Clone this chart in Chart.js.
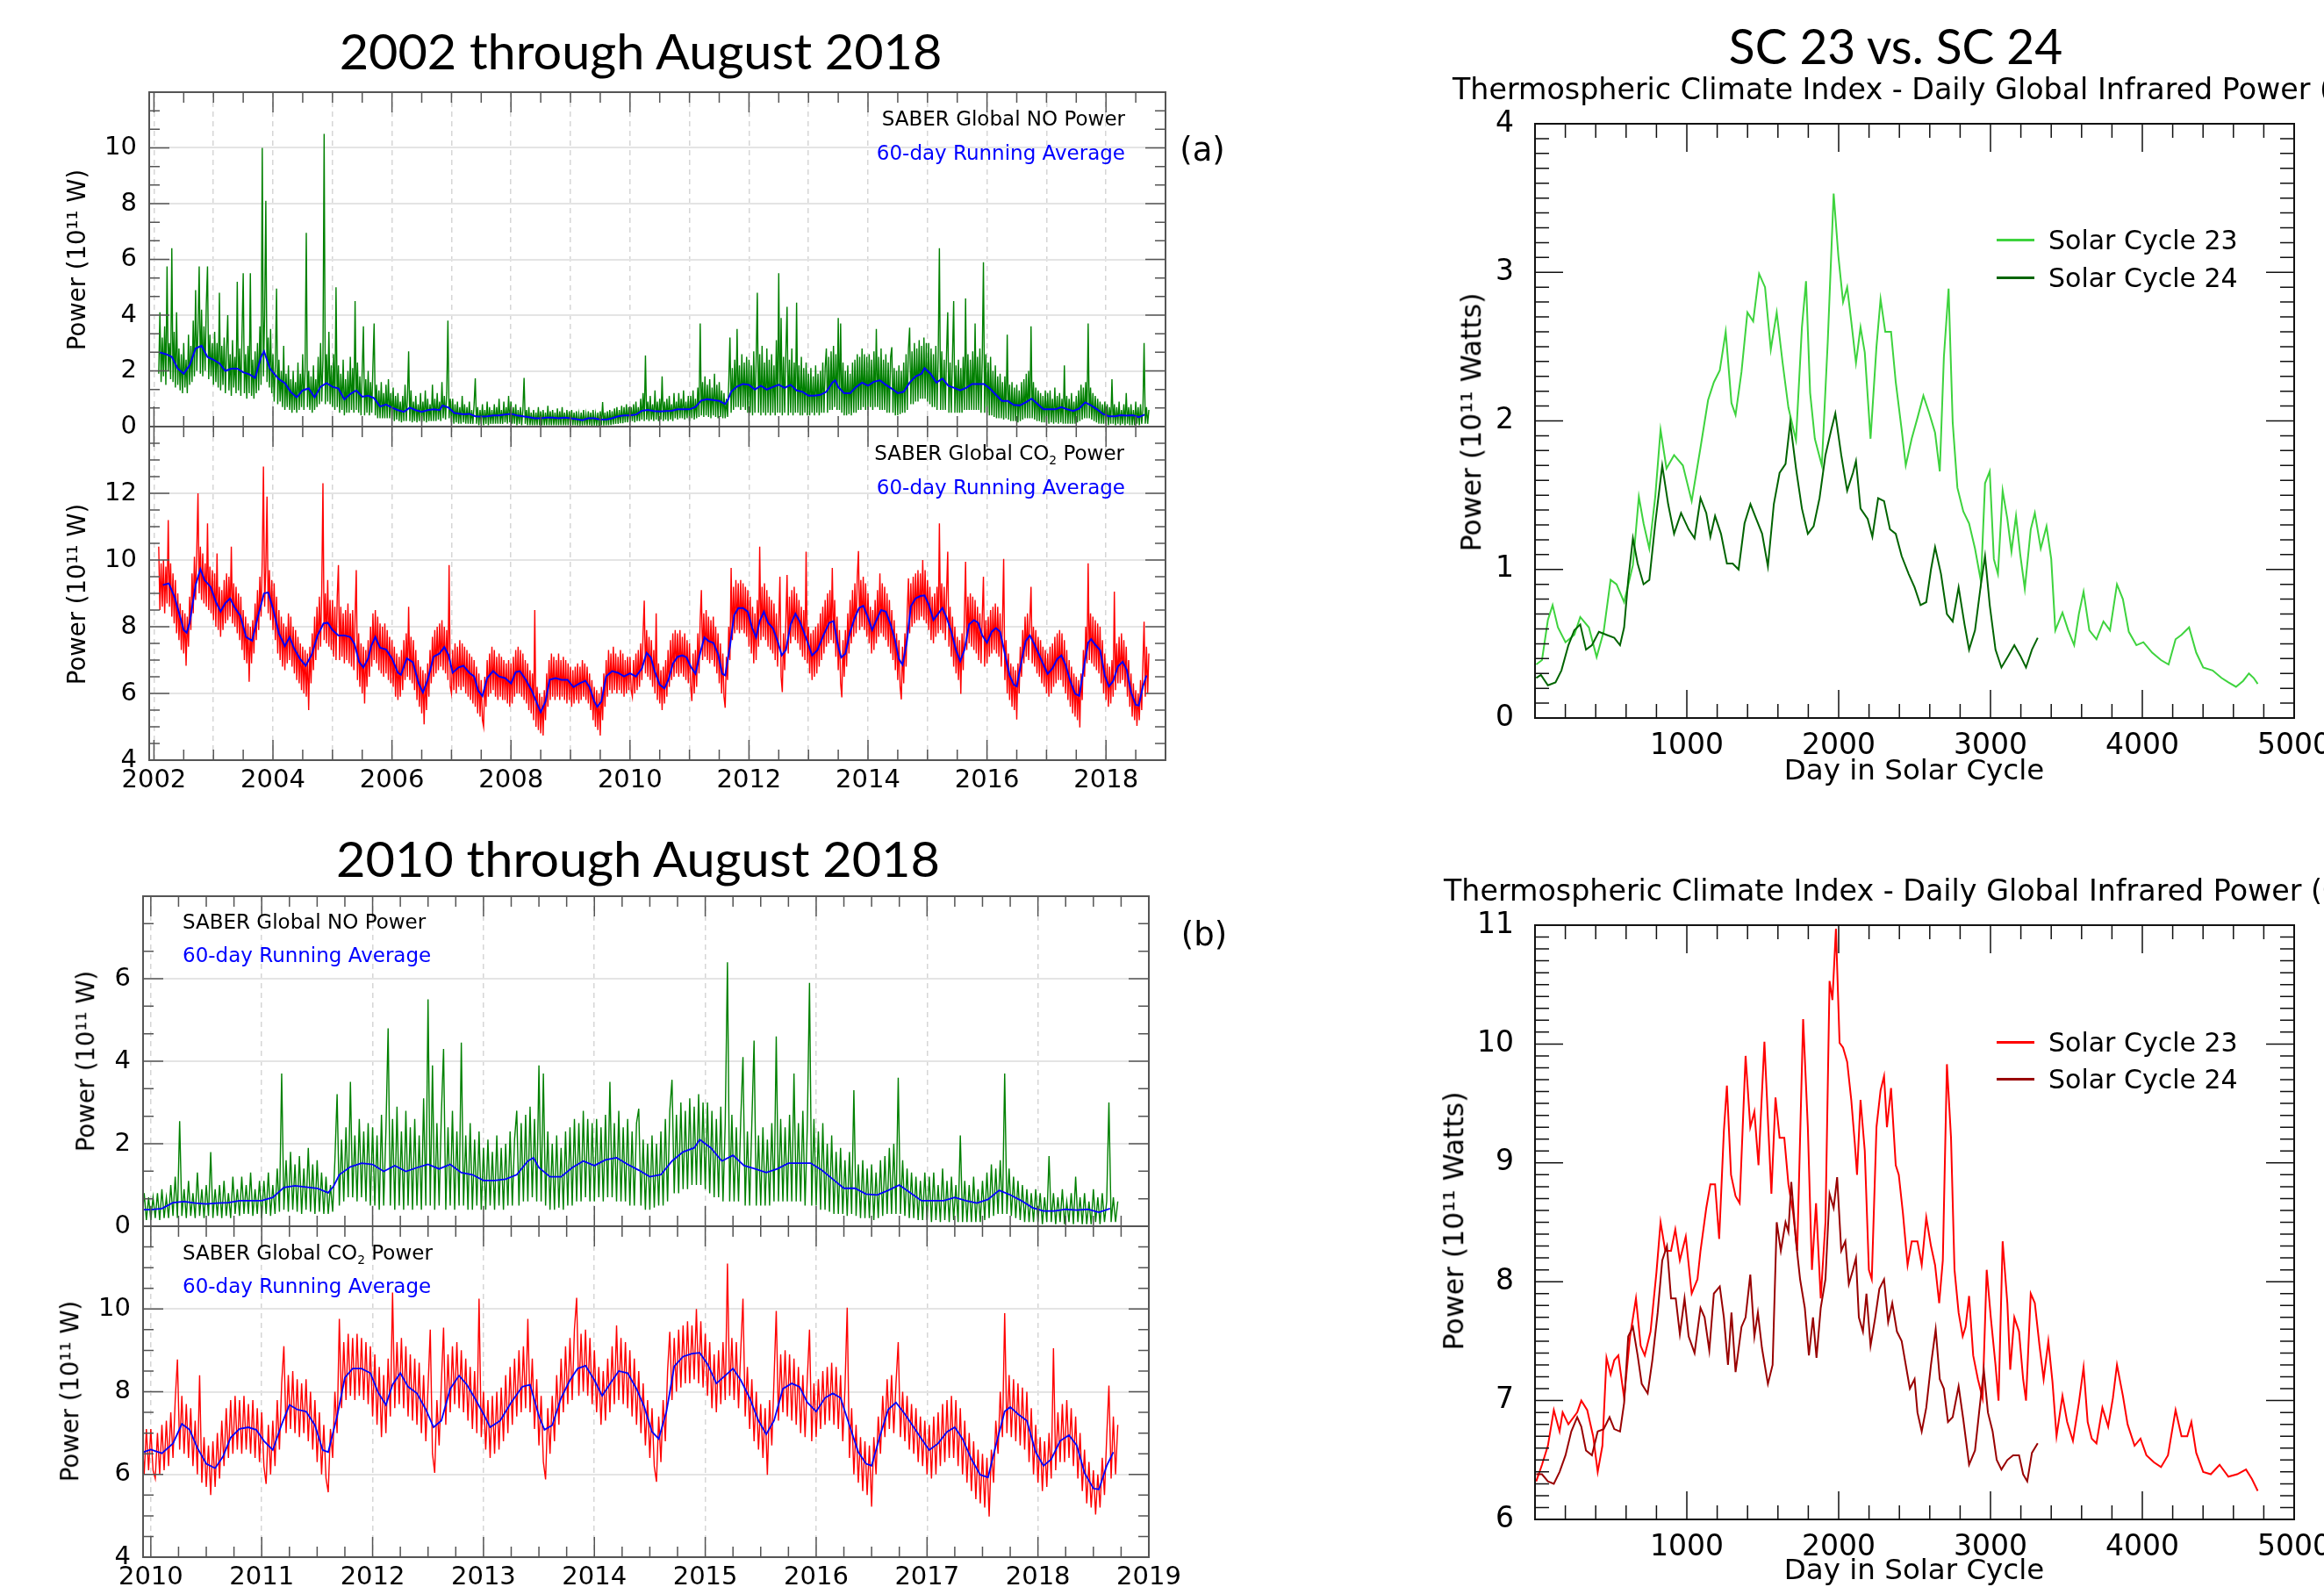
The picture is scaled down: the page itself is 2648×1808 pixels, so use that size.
<!DOCTYPE html>
<html>
<head>
<meta charset="utf-8">
<script src="https://cdn.jsdelivr.net/npm/chart.js@4.4.1/dist/chart.umd.min.js"></script>
<style>
html, body { margin: 0; padding: 0; width: 2648px; height: 1808px; overflow: hidden; background: #fff; }
canvas { position: absolute; }
.t { position: absolute; white-space: nowrap; line-height: 1; color: #000; font-family: "DejaVu Sans", sans-serif; }
.c { transform: translate(-50%, -50%); }
.l { transform: translateY(-50%); }
.r { transform: translate(-100%, -50%); }
.v { transform: translate(-50%, -50%) rotate(-90deg); }
.big { font-family: Lato, "Open Sans", sans-serif; font-size: 56px; }
.sm { font-size: 23px; }
.blue { color: #0000ff; }
.sub { font-size: 60%; position: relative; top: 0.35em; }
.key { position: absolute; height: 3px; width: 43px; }
</style>
</head>
<body>
<canvas id="tlNo" width="1378" height="461" style="left:0;top:65px"></canvas>
<canvas id="tlCo2" width="1378" height="470" style="left:0;top:446px"></canvas>
<canvas id="blNo" width="1359" height="456" style="left:0;top:981px"></canvas>
<canvas id="blCo2" width="1359" height="467" style="left:0;top:1357px"></canvas>
<canvas id="trNo" width="1025" height="777" style="left:1649px;top:101px"></canvas>
<canvas id="brCo2" width="1025" height="777" style="left:1649px;top:1014px"></canvas>

<div class="t c big" data-fit="687" style="left:730px;top:58px">2002 through August 2018</div>
<div class="t c big" data-fit="688" style="left:727px;top:978px">2010 through August 2018</div>
<div class="t c big" data-fit="380" style="left:2160px;top:52px">SC 23 vs. SC 24</div>
<div class="t l" style="left:1655px;top:102px;font-size:33.3px">Thermospheric Climate Index - Daily Global Infrared Power (NO)</div>
<div class="t l" style="left:1645px;top:1015px;font-size:33.3px">Thermospheric Climate Index - Daily Global Infrared Power (CO<span class="sub">2</span>)</div>

<div class="t c" style="left:1370px;top:170px;font-size:37px">(a)</div>
<div class="t c" style="left:1372px;top:1064px;font-size:37px">(b)</div>

<div class="t r sm" style="left:1282px;top:135px">SABER Global NO Power</div>
<div class="t r sm blue" style="left:1282px;top:174px">60-day Running Average</div>
<div class="t r sm" style="left:1281px;top:516px">SABER Global CO<span class="sub">2</span> Power</div>
<div class="t r sm blue" style="left:1282px;top:555px">60-day Running Average</div>
<div class="t l sm" style="left:208px;top:1050px">SABER Global NO Power</div>
<div class="t l sm blue" style="left:208px;top:1088px">60-day Running Average</div>
<div class="t l sm" style="left:208px;top:1427px">SABER Global CO<span class="sub">2</span> Power</div>
<div class="t l sm blue" style="left:208px;top:1465px">60-day Running Average</div>

<div class="t v" style="left:88px;top:296px;font-size:27.5px">Power (10¹¹ W)</div>
<div class="t v" style="left:88px;top:677px;font-size:27.5px">Power (10¹¹ W)</div>
<div class="t v" style="left:98px;top:1209px;font-size:27.5px">Power (10¹¹ W)</div>
<div class="t v" style="left:80px;top:1585px;font-size:27.5px">Power (10¹¹ W)</div>
<div class="t v" style="left:1677px;top:481px;font-size:31.5px">Power (10¹¹ Watts)</div>
<div class="t v" style="left:1657px;top:1391px;font-size:31.5px">Power (10¹¹ Watts)</div>
<div class="t c" style="left:2181px;top:877px;font-size:32.5px">Day in Solar Cycle</div>
<div class="t c" style="left:2181px;top:1788px;font-size:32.5px">Day in Solar Cycle</div>

<div class="key" style="left:2275px;top:272px;background:#3ed33e"></div>
<div class="t l" style="left:2334px;top:274px;font-size:30px">Solar Cycle 23</div>
<div class="key" style="left:2275px;top:315px;background:#006400"></div>
<div class="t l" style="left:2334px;top:317px;font-size:30px">Solar Cycle 24</div>
<div class="key" style="left:2275px;top:1186px;background:#ff0000"></div>
<div class="t l" style="left:2334px;top:1188px;font-size:30px">Solar Cycle 23</div>
<div class="key" style="left:2275px;top:1228px;background:#990000"></div>
<div class="t l" style="left:2334px;top:1230px;font-size:30px">Solar Cycle 24</div>

<script>
var RAW_START = 2002.08;
var RAW_STEP = 0.02;

var noRaw = [
  // 2002
  1.9,4.1,1.6,3.2,1.8,3.6,1.5,5.75,2.0,3.0,1.7,6.4,1.6,3.4,1.4,4.1,1.5,2.8,1.3,2.6,1.2,3.0,1.4,
  2.4,1.2,3.3,1.5,2.9,1.6,3.8,1.8,4.9,2.0,3.5,5.75,1.9,4.2,1.8,3.6,2.0,4.4,5.75,1.7,3.3,1.8,3.0,
  // 2003
  1.5,3.4,1.6,3.0,1.4,4.8,1.3,2.9,1.5,3.2,1.2,2.7,4.0,1.3,2.6,1.1,3.1,1.4,2.5,1.2,5.2,1.3,2.8,1.1,3.3,
  5.5,1.2,2.6,1.0,2.9,1.2,5.5,1.1,2.4,1.0,2.7,1.2,3.0,1.3,3.6,1.5,10.0,1.8,4.0,8.1,1.6,3.2,1.4,3.5,1.2,
  // 2004
  2.6,0.9,2.2,4.95,0.8,2.4,0.9,2.0,0.7,2.9,0.6,1.9,0.7,2.2,0.6,1.7,0.5,2.0,0.6,1.6,0.5,2.3,0.6,1.9,0.7,
  2.6,0.6,2.1,6.95,0.7,2.0,0.6,1.8,0.5,2.2,0.6,1.7,0.7,2.5,0.8,3.0,0.9,2.4,10.5,0.8,2.6,0.9,3.4,0.8,2.2,
  // 2005
  0.7,2.6,0.6,5.0,0.7,2.2,0.5,1.9,0.6,2.4,0.4,1.7,0.5,2.0,0.5,2.5,0.6,2.1,0.5,4.5,0.6,2.3,0.5,1.8,0.4,
  2.0,3.6,0.4,1.7,0.5,2.0,0.4,1.6,0.5,2.2,3.7,0.4,1.5,0.3,1.3,0.3,1.6,0.3,1.2,0.3,1.5,0.3,1.7,0.3,1.2,
  // 2006
  0.25,1.4,0.2,1.1,0.25,1.2,0.2,0.9,0.15,1.1,0.2,1.5,0.2,1.0,2.7,0.2,1.3,0.15,0.9,0.2,1.1,0.15,0.8,0.2,1.2,
  0.15,0.9,0.2,1.3,0.15,1.0,0.2,0.8,0.2,1.5,0.2,1.0,0.2,1.2,0.25,0.9,0.2,1.6,0.3,1.1,0.25,1.2,3.8,0.3,1.0,
  // 2007
  0.15,1.0,0.1,0.8,0.15,0.9,0.1,0.7,0.1,1.1,0.15,0.8,0.1,0.7,0.1,0.9,0.1,0.6,0.1,0.8,1.73,0.1,0.7,0.05,0.6,
  0.1,0.8,0.05,0.6,0.1,0.9,0.05,0.7,0.1,0.6,0.1,0.8,0.1,0.7,0.1,1.0,0.1,0.6,0.1,0.9,0.15,0.7,0.1,1.1,0.15,
  // 2008
  0.9,0.1,0.7,0.1,0.8,0.05,0.6,0.1,0.7,0.05,0.6,1.75,0.1,0.6,0.05,0.7,0.05,0.5,0.05,0.6,0.05,0.5,0.05,0.7,0.05,
  0.55,0.05,0.6,0.05,0.5,0.05,0.75,0.05,0.55,0.05,0.6,0.05,0.5,0.05,0.65,0.05,0.55,0.05,0.7,0.05,0.5,0.05,0.6,0.05,0.55,
  // 2009
  0.05,0.6,0.05,0.5,0.05,0.55,0.04,0.45,0.05,0.5,0.04,0.6,0.05,0.45,0.04,0.55,0.05,0.5,0.03,0.6,0.04,0.45,0.05,0.5,0.03,
  0.55,0.05,0.88,0.04,0.5,0.05,0.55,0.05,0.6,0.06,0.55,0.08,0.65,0.1,0.7,0.1,0.6,0.12,0.75,0.12,0.7,0.15,0.8,0.15,0.7,
  // 2010
  0.15,0.7,0.2,0.8,0.15,0.9,0.2,0.7,0.2,1.0,0.25,1.2,0.2,2.55,0.25,0.9,0.2,1.1,0.25,0.8,0.2,1.3,0.25,0.9,0.2,
  1.0,0.25,1.8,0.2,0.9,0.25,1.0,0.2,1.1,0.25,0.8,0.2,1.2,0.3,0.9,0.25,1.2,0.3,1.0,0.3,1.3,0.25,0.9,0.3,1.1,
  // 2011
  0.2,1.1,0.3,1.3,0.25,1.0,0.3,1.4,0.35,3.7,0.4,1.6,0.35,1.8,0.4,1.5,0.35,1.7,0.3,1.4,0.4,1.9,0.35,1.5,0.3,
  1.6,0.35,1.3,0.3,1.2,0.3,1.0,0.35,1.6,3.2,0.5,2.1,0.6,2.4,0.7,3.5,0.7,2.2,0.6,2.6,0.7,2.3,0.6,2.5,0.5,
  // 2012
  2.4,0.5,2.2,0.4,2.7,0.5,2.3,4.8,0.5,2.6,0.4,2.9,0.5,2.3,0.4,2.8,0.5,2.4,0.4,2.6,0.5,2.2,0.4,3.1,0.5,
  5.5,0.5,3.9,0.4,2.5,0.5,2.7,4.3,0.4,2.4,0.5,2.8,0.4,2.3,0.5,4.45,0.5,2.2,0.4,2.5,0.4,2.1,0.5,2.3,0.4,
  // 2013
  1.9,0.4,2.1,0.5,1.8,0.4,2.2,0.5,1.9,0.4,2.0,0.5,2.3,0.5,2.1,2.8,0.5,2.5,0.6,2.7,0.6,2.9,0.7,2.6,0.6,
  3.9,0.6,3.7,0.5,2.3,0.4,2.0,0.4,2.2,0.45,1.9,0.4,2.3,0.5,2.4,0.5,2.6,0.6,2.5,0.6,2.8,0.7,2.6,0.6,2.5,
  // 2014
  0.6,2.6,0.7,2.4,0.6,2.7,0.7,3.5,0.7,2.5,0.6,2.8,0.6,2.4,0.6,2.6,0.5,2.3,0.5,2.5,2.85,0.5,2.1,0.4,2.0,
  0.4,2.2,0.45,2.0,0.5,2.3,0.5,2.6,0.6,2.8,3.55,0.8,2.7,0.8,3.0,0.9,2.8,0.9,3.1,1.0,2.9,1.0,3.2,1.0,3.0,
  // 2015
  0.9,3.0,0.8,2.8,0.7,2.6,0.7,2.9,0.6,2.5,6.4,0.6,2.7,0.6,2.4,0.6,2.6,4.1,0.5,2.3,0.5,2.5,4.5,0.5,2.2,
  0.5,2.4,0.5,2.1,0.5,2.5,0.6,4.6,0.6,2.6,0.6,2.4,0.6,2.7,0.6,3.7,0.6,2.5,0.6,2.8,0.5,2.4,5.9,0.5,2.6,
  // 2016
  0.5,2.3,0.4,2.5,0.4,2.0,0.35,2.2,0.3,1.8,0.3,1.9,0.3,1.6,0.25,1.8,0.3,3.3,0.25,1.5,0.2,1.6,0.2,1.4,0.2,
  1.5,0.15,1.3,0.2,1.6,0.25,1.7,0.3,1.9,0.3,2.0,0.3,3.6,0.3,1.6,0.25,1.4,0.2,1.3,0.2,1.2,0.15,1.1,0.15,1.3,
  // 2017
  0.15,1.2,0.1,1.3,0.15,1.0,0.1,1.4,0.15,1.1,0.1,1.2,0.15,1.0,0.1,2.2,0.1,1.1,0.1,1.0,0.1,1.2,0.1,0.9,0.1,
  1.1,0.15,1.3,0.2,1.5,0.25,1.4,0.3,1.6,0.3,3.7,0.3,1.4,0.25,1.2,0.2,1.1,0.15,1.0,0.1,0.9,0.1,0.8,0.1,0.9,
  // 2018
  0.1,0.8,0.05,0.7,0.1,1.7,0.1,0.8,0.05,0.7,0.1,0.9,0.05,0.6,0.1,0.8,0.05,1.2,0.1,0.7,0.05,0.8,0.05,0.6,0.05,
  0.9,0.1,0.7,0.05,0.8,0.1,0.6,3.0,0.1,0.7,0.1,0.6
];

var co2Raw = [
  // 2002
  10.4,8.5,9.9,8.6,10.0,8.4,9.8,8.7,11.2,8.6,9.9,8.3,9.6,8.1,9.4,7.8,9.0,7.6,8.7,7.3,8.5,7.2,8.4,
  6.83,8.3,7.4,8.9,7.9,9.6,8.4,10.1,8.8,10.3,12.0,9.0,10.4,8.8,10.2,8.7,9.9,8.6,11.1,8.5,9.8,8.4,9.7,
  // 2003
  8.2,9.6,8.0,10.2,7.9,9.2,7.7,9.1,7.9,9.4,8.1,9.6,8.2,9.5,8.3,10.4,8.1,9.3,8.0,9.2,7.8,9.0,7.6,8.9,7.3,
  8.5,7.0,8.3,6.9,8.1,6.35,8.0,6.9,8.2,7.2,8.7,7.6,9.1,7.9,9.5,8.3,10.0,12.8,8.6,9.8,11.9,8.4,9.7,8.2,9.4,
  // 2004
  7.9,9.3,7.6,8.9,7.2,8.5,7.0,8.3,6.8,8.1,6.7,8.0,6.9,8.4,7.0,8.3,6.8,8.0,6.6,7.9,6.4,7.7,6.3,7.5,6.1,
  7.4,6.0,7.3,5.9,7.2,5.5,7.4,6.3,7.8,6.7,8.3,7.0,8.6,7.3,8.9,7.4,9.1,12.3,7.6,9.0,7.5,9.4,7.4,8.8,7.3,
  // 2005
  8.8,7.1,8.6,7.0,8.9,9.85,7.0,8.6,7.1,8.4,6.9,8.5,7.0,8.7,6.9,8.4,6.8,8.5,6.7,8.3,9.7,6.4,7.8,6.2,7.5,
  6.0,7.4,5.7,7.3,6.2,7.6,6.5,8.0,6.8,8.4,7.0,8.5,6.9,8.3,6.7,8.1,6.6,8.0,6.5,8.1,6.6,7.9,6.4,7.7,6.3,
  // 2006
  7.6,6.2,7.4,5.9,7.2,5.8,7.1,5.9,7.3,6.1,7.6,6.4,7.8,6.5,8.6,6.4,7.7,6.3,7.6,6.1,7.3,5.8,7.0,5.6,6.8,
  5.4,6.7,5.07,6.6,5.5,6.9,5.9,7.3,6.3,7.7,6.5,7.9,6.6,8.0,6.7,8.1,6.8,8.2,6.7,8.0,6.6,7.9,6.4,9.85,6.2,
  // 2007
  6.0,7.3,6.1,7.5,6.0,7.4,6.2,7.6,6.1,7.5,6.2,7.4,6.0,7.3,5.9,7.2,5.8,7.1,5.7,7.0,5.6,6.8,5.4,6.6,5.3,
  6.4,5.2,5.0,6.5,5.6,7.0,5.9,7.2,6.0,7.4,6.1,7.3,5.9,7.1,5.8,7.2,5.9,7.1,5.8,7.0,5.8,6.9,5.7,7.0,5.6,
  // 2008
  6.9,5.7,7.1,5.9,7.3,6.0,7.4,6.0,7.3,5.9,7.2,5.8,7.0,5.7,6.9,5.5,6.7,5.4,6.6,5.2,8.5,5.0,6.2,4.9,6.0,
  4.8,5.9,4.74,6.1,5.2,6.6,5.6,7.0,5.8,7.2,5.9,7.1,5.8,7.0,5.9,7.2,5.8,7.0,5.9,7.1,5.8,7.0,5.7,6.9,5.8,
  // 2009
  6.8,5.6,6.7,5.7,6.8,5.8,6.9,5.7,6.8,5.8,7.0,5.9,6.9,5.8,6.8,5.7,6.6,5.5,6.4,5.2,6.2,5.0,6.1,4.9,6.0,
  4.74,6.2,5.2,6.6,5.6,7.0,5.9,7.3,6.1,7.2,6.0,7.4,6.1,7.2,6.0,7.1,6.1,7.3,6.0,7.2,5.9,7.0,6.0,7.1,6.1,
  // 2010
  7.1,6.1,5.9,7.0,6.0,7.2,6.1,7.3,6.2,7.5,6.4,7.8,8.78,6.6,7.9,6.5,7.7,6.4,7.6,6.2,7.3,6.0,8.4,5.8,6.9,
  5.7,6.7,5.5,6.8,5.7,7.0,5.9,7.3,6.2,7.6,6.4,7.8,6.5,7.9,6.6,7.8,6.5,7.9,6.6,7.7,6.5,7.8,6.4,7.6,6.3,
  // 2011
  7.5,6.2,5.77,7.2,6.0,7.3,6.2,7.8,6.6,8.2,9.1,7.0,8.4,7.1,8.5,7.0,8.3,6.9,8.2,7.0,8.3,6.8,8.0,6.6,7.8,
  6.3,7.5,6.0,7.2,5.9,5.57,7.1,6.4,8.0,7.0,9.76,7.6,9.2,7.8,9.4,7.9,9.3,7.8,9.4,7.9,9.3,7.8,9.2,7.7,9.1,
  // 2012
  7.4,8.9,7.2,8.6,6.9,8.4,7.0,8.8,7.4,10.4,7.6,9.2,7.7,9.3,7.6,9.1,7.4,8.9,7.3,8.8,7.2,8.7,7.0,8.4,6.8,
  8.1,9.5,6.5,6.04,7.8,6.7,8.2,9.55,7.2,8.9,7.5,9.1,7.7,9.2,7.6,9.0,7.5,8.8,7.3,8.6,7.1,8.5,7.0,10.25,6.9,
  // 2013
  8.0,6.6,7.8,6.4,7.9,6.5,8.0,6.6,8.1,6.8,8.4,7.0,8.6,7.2,8.8,7.4,9.0,7.5,9.1,7.6,9.76,7.5,8.8,7.1,8.3,
  6.7,7.9,6.3,5.88,7.6,6.5,7.9,6.8,8.4,7.2,8.8,7.5,9.1,7.7,9.3,7.8,9.5,10.27,7.9,9.4,8.0,9.5,7.9,9.3,7.7,
  // 2014
  9.0,7.5,8.6,7.2,8.5,7.3,8.8,7.5,9.1,7.7,9.6,7.8,9.3,7.7,9.2,7.6,9.0,7.4,8.8,7.2,8.5,7.0,8.2,6.7,7.8,
  6.4,7.6,6.2,5.82,7.4,6.3,7.8,6.8,8.5,9.45,7.8,9.3,8.0,9.5,8.1,9.6,8.2,9.7,8.2,9.6,8.3,10.0,8.2,9.7,8.1,
  // 2015
  9.4,7.9,9.2,7.6,8.9,7.5,9.0,7.7,9.2,7.8,11.1,7.9,9.3,7.8,9.2,7.6,9.0,10.25,7.4,8.6,7.1,8.3,6.8,8.0,6.6,
  7.7,6.4,7.6,5.99,7.8,6.7,8.3,9.95,7.3,8.9,7.5,9.0,7.4,8.9,7.3,8.8,7.2,8.6,7.0,8.4,6.9,8.3,9.5,6.8,8.2,
  // 2016
  6.9,8.3,7.1,8.5,7.2,8.6,7.3,8.7,7.2,8.6,7.1,8.4,6.8,8.1,10.03,6.4,7.6,6.0,7.2,5.8,6.9,5.6,6.8,5.5,6.7,
  5.22,6.9,6.0,7.4,6.5,7.9,6.9,8.3,7.1,8.4,7.0,8.2,9.2,6.9,8.0,6.8,7.9,6.6,7.7,6.5,7.6,6.3,7.4,6.2,7.3,
  // 2017
  6.0,7.2,5.9,7.4,6.0,7.5,6.2,7.7,6.3,7.8,6.4,7.9,6.4,7.8,6.2,7.6,6.0,7.3,5.8,7.0,5.6,6.8,5.4,6.6,5.3,
  6.5,5.2,6.4,4.98,6.6,5.8,7.3,6.5,8.0,6.9,9.9,7.0,8.4,6.9,8.3,6.8,8.2,6.7,8.1,6.6,8.0,6.3,7.6,6.0,7.2,
  // 2018
  5.8,6.9,5.6,6.8,5.7,7.0,5.9,9.05,6.1,7.5,6.3,7.7,6.3,7.8,6.4,7.6,6.2,7.4,5.9,7.0,5.6,6.6,5.3,6.3,5.2,
  6.1,5.03,6.0,5.2,6.4,5.5,6.9,8.15,5.9,7.4,6.0,7.2
];

// 60-day running averages as [year, power]
var noAvg = [
  [2002.1,2.66],[2002.2,2.6],[2002.3,2.5],[2002.4,2.08],[2002.5,1.9],[2002.6,2.2],[2002.7,2.8],[2002.8,2.9],[2002.9,2.5],
  [2003.0,2.4],[2003.1,2.27],[2003.2,2.0],[2003.3,2.08],[2003.4,2.08],[2003.5,1.95],[2003.6,1.88],[2003.7,1.75],[2003.8,2.5],[2003.85,2.7],[2003.95,2.08],
  [2004.1,1.7],[2004.2,1.56],[2004.3,1.24],[2004.4,1.05],[2004.5,1.3],[2004.6,1.37],[2004.7,1.05],[2004.8,1.43],[2004.9,1.56],
  [2005.0,1.43],[2005.1,1.37],[2005.2,0.98],[2005.3,1.17],[2005.4,1.3],[2005.5,1.07],[2005.6,1.11],[2005.7,1.02],[2005.8,0.72],[2005.9,0.79],
  [2006.0,0.68],[2006.1,0.59],[2006.2,0.53],[2006.3,0.68],[2006.4,0.59],[2006.5,0.53],[2006.6,0.59],[2006.7,0.62],[2006.8,0.59],[2006.85,0.76],[2006.95,0.68],
  [2007.05,0.49],[2007.2,0.44],[2007.3,0.46],[2007.4,0.37],[2007.5,0.36],[2007.6,0.37],[2007.7,0.4],[2007.8,0.4],[2007.9,0.43],
  [2008.0,0.46],[2008.1,0.4],[2008.2,0.37],[2008.3,0.34],[2008.4,0.3],[2008.5,0.3],[2008.6,0.32],[2008.7,0.32],[2008.8,0.3],[2008.9,0.32],
  [2009.0,0.3],[2009.1,0.27],[2009.2,0.23],[2009.3,0.3],[2009.4,0.3],[2009.5,0.25],[2009.6,0.25],[2009.7,0.3],[2009.8,0.37],[2009.9,0.4],
  [2010.0,0.4],[2010.1,0.43],[2010.2,0.57],[2010.3,0.6],[2010.4,0.56],[2010.5,0.54],[2010.6,0.56],[2010.7,0.57],[2010.8,0.62],[2010.9,0.62],
  [2011.0,0.62],[2011.1,0.7],[2011.2,0.94],[2011.3,0.98],[2011.4,0.95],[2011.5,0.92],[2011.6,0.81],[2011.65,0.98],[2011.7,1.25],[2011.8,1.44],[2011.9,1.53],
  [2012.0,1.5],[2012.1,1.33],[2012.2,1.47],[2012.3,1.33],[2012.4,1.42],[2012.5,1.5],[2012.6,1.39],[2012.7,1.5],[2012.8,1.3],[2012.9,1.25],
  [2013.0,1.11],[2013.1,1.11],[2013.2,1.14],[2013.3,1.25],[2013.4,1.58],[2013.45,1.66],[2013.5,1.42],[2013.6,1.2],[2013.7,1.2],[2013.8,1.42],[2013.9,1.58],
  [2014.0,1.47],[2014.1,1.61],[2014.2,1.66],[2014.3,1.5],[2014.4,1.36],[2014.5,1.2],[2014.6,1.25],[2014.7,1.58],[2014.8,1.8],[2014.9,1.9],[2014.95,2.1],
  [2015.05,1.9],[2015.15,1.58],[2015.25,1.72],[2015.35,1.47],[2015.45,1.39],[2015.55,1.3],[2015.65,1.39],[2015.75,1.53],[2015.85,1.53],[2015.95,1.53],
  [2016.05,1.36],[2016.15,1.14],[2016.25,0.92],[2016.35,0.92],[2016.45,0.78],[2016.55,0.76],[2016.65,0.87],[2016.75,1.0],[2016.85,0.81],[2016.95,0.62],
  [2017.05,0.62],[2017.15,0.62],[2017.25,0.7],[2017.35,0.62],[2017.45,0.56],[2017.55,0.65],[2017.65,0.87],[2017.75,0.76],[2017.85,0.62],[2017.95,0.45],
  [2018.05,0.37],[2018.15,0.37],[2018.25,0.41],[2018.35,0.39],[2018.45,0.41],[2018.55,0.34],[2018.65,0.43]
];

var co2Avg = [
  [2002.15,9.25],[2002.25,9.3],[2002.35,8.87],[2002.45,8.23],[2002.5,7.9],[2002.55,7.82],[2002.6,8.12],[2002.7,9.25],[2002.78,9.73],[2002.85,9.4],[2002.95,9.2],
  [2003.05,8.71],[2003.12,8.46],[2003.2,8.71],[2003.28,8.85],[2003.35,8.6],[2003.45,8.33],[2003.55,7.69],[2003.65,7.58],[2003.75,8.33],[2003.85,9.0],[2003.92,9.03],
  [2004.0,8.55],[2004.1,7.8],[2004.2,7.42],[2004.28,7.69],[2004.35,7.37],[2004.45,7.05],[2004.55,6.83],[2004.65,7.16],[2004.75,7.74],[2004.85,8.1],[2004.92,8.12],
  [2005.0,7.9],[2005.1,7.74],[2005.2,7.74],[2005.3,7.69],[2005.37,7.48],[2005.45,6.94],[2005.52,6.78],[2005.6,7.05],[2005.65,7.42],[2005.72,7.69],[2005.8,7.37],[2005.9,7.32],
  [2006.0,7.05],[2006.1,6.62],[2006.15,6.56],[2006.25,7.05],[2006.35,6.94],[2006.45,6.3],[2006.52,6.03],[2006.6,6.41],[2006.7,7.1],[2006.8,7.2],[2006.88,7.39],[2006.95,7.16],
  [2007.02,6.62],[2007.12,6.78],[2007.2,6.83],[2007.3,6.62],[2007.38,6.51],[2007.45,6.08],[2007.52,5.92],[2007.6,6.46],[2007.7,6.67],[2007.8,6.51],[2007.9,6.46],
  [2008.0,6.3],[2008.08,6.64],[2008.15,6.67],[2008.25,6.41],[2008.35,6.08],[2008.45,5.65],[2008.5,5.44],[2008.58,5.76],[2008.65,6.41],[2008.75,6.46],[2008.85,6.41],[2008.95,6.41],
  [2009.05,6.19],[2009.15,6.3],[2009.25,6.38],[2009.32,6.19],[2009.4,5.76],[2009.45,5.6],[2009.52,5.76],[2009.6,6.51],[2009.7,6.67],[2009.8,6.62],[2009.9,6.51],
  [2010.0,6.6],[2010.1,6.51],[2010.2,6.75],[2010.28,7.22],[2010.35,7.08],[2010.42,6.64],[2010.5,6.26],[2010.58,6.15],[2010.65,6.43],[2010.72,6.89],[2010.8,7.1],[2010.88,7.14],[2010.95,7.08],
  [2011.02,6.81],[2011.1,6.59],[2011.18,7.21],[2011.25,7.68],[2011.32,7.57],[2011.4,7.52],[2011.48,7.19],[2011.55,6.59],[2011.6,6.54],[2011.68,7.41],[2011.75,8.34],[2011.82,8.56],[2011.9,8.56],[2011.98,8.45],
  [2012.05,7.98],[2012.12,7.68],[2012.18,8.17],[2012.25,8.45],[2012.32,8.12],[2012.4,7.96],[2012.48,7.57],[2012.55,7.14],[2012.62,7.3],[2012.7,8.07],[2012.78,8.39],[2012.85,8.17],[2012.92,7.85],
  [2013.0,7.46],[2013.06,7.14],[2013.15,7.3],[2013.25,7.74],[2013.35,8.12],[2013.42,8.17],[2013.5,7.41],[2013.55,7.08],[2013.62,7.19],[2013.7,7.85],[2013.78,8.28],[2013.85,8.56],[2013.92,8.63],
  [2014.0,8.28],[2014.07,7.9],[2014.15,8.23],[2014.22,8.5],[2014.3,8.45],[2014.38,8.07],[2014.45,7.63],[2014.52,7.03],[2014.58,6.86],[2014.65,7.52],[2014.72,8.61],[2014.8,8.85],[2014.88,8.92],[2014.95,8.94],
  [2015.02,8.67],[2015.1,8.2],[2015.18,8.39],[2015.25,8.56],[2015.32,8.28],[2015.4,7.85],[2015.48,7.3],[2015.55,6.97],[2015.62,7.3],[2015.7,8.07],[2015.78,8.2],[2015.85,8.12],[2015.92,7.74],
  [2016.0,7.52],[2016.08,7.85],[2016.15,7.96],[2016.22,7.85],[2016.3,7.19],[2016.38,6.54],[2016.45,6.26],[2016.5,6.21],[2016.58,6.97],[2016.65,7.57],[2016.72,7.74],[2016.8,7.46],[2016.88,7.14],[2016.95,6.86],
  [2017.02,6.59],[2017.1,6.75],[2017.18,7.03],[2017.25,7.14],[2017.32,6.86],[2017.4,6.37],[2017.48,5.99],[2017.55,5.93],[2017.62,6.7],[2017.7,7.52],[2017.75,7.63],[2017.82,7.46],[2017.9,7.3],[2017.98,6.54],
  [2018.05,6.21],[2018.12,6.37],[2018.2,6.81],[2018.28,6.95],[2018.35,6.7],[2018.42,6.04],[2018.5,5.66],[2018.55,5.64],[2018.62,6.21],[2018.68,6.54]
];

// Thermospheric Climate Index, day in solar cycle vs power
var sc23NoDays = [
  8,46,85,116,151,201,259,298,355,406, 452,498,537,587,645,684,715,753,792,827,
  866,916,974,1032,1090,1140,1178,1217,1256,1294, 1321,1360,1399,1437,1476,1515,1553,1592,1631,1669,
  1719,1758,1785,1812,1843,1889,1928,1967,1998,2029, 2056,2083,2114,2144,2172,2210,2249,2276,2307,2345,
  2376,2415,2442,2481,2519,2558,2597,2635,2666,2693, 2724,2751,2782,2821,2859,2898,2937,2964,2995,3022,
  3049,3080,3111,3138,3168,3196,3226,3265,3292,3331, 3369,3400,3427,3474,3512,3551,3582,3613,3651,3698,
  3744,3787,3833,3872,3911,3961,4007,4065,4123,4173, 4219,4258,4308,4355,4401,4463,4521,4567,4617,4664,
  4702,4733,4760
];
var sc23No = [
  0.36,0.39,0.66,0.76,0.61,0.51,0.56,0.68,0.61,0.41, 0.58,0.93,0.9,0.78,1.03,1.49,1.31,1.14,1.49,1.94,
  1.68,1.77,1.7,1.46,1.82,2.14,2.26,2.34,2.6,2.12, 2.04,2.33,2.73,2.67,2.99,2.9,2.48,2.73,2.39,2.09,
  1.87,2.63,2.94,2.19,1.88,1.7,2.53,3.53,3.11,2.8, 2.9,2.67,2.39,2.63,2.46,1.88,2.5,2.82,2.6,2.6,
  2.26,1.94,1.7,1.88,2.02,2.17,2.05,1.92,1.66,2.43, 2.89,1.99,1.55,1.39,1.31,1.14,0.92,1.58,1.66,1.07,
  0.97,1.53,1.34,1.12,1.36,1.1,0.87,1.27,1.38,1.14, 1.29,1.07,0.59,0.71,0.59,0.49,0.7,0.85,0.59,0.53,
  0.65,0.59,0.9,0.8,0.58,0.49,0.51,0.44,0.39,0.36, 0.53,0.56,0.61,0.44,0.34,0.32,0.27,0.24,0.21,0.25,
  0.3,0.27,0.23
];
var sc24NoDays = [
  8,39,85,135,174,220,259,298,336,375, 421,471,522,560,587,614,645,676,715,753,
  792,838,877,916,962,1012,1051,1090,1128,1155, 1186,1225,1264,1302,1341,1380,1419,1457,1496,1534,
  1573,1611,1650,1681,1719,1758,1797,1835,1874,1913, 1951,1978,2017,2056,2094,2114,2144,2191,2222,2260,
  2299,2338,2376,2415,2461,2500,2539,2577,2608,2635, 2674,2713,2751,2790,2829,2859,2898,2937,2964,2995,
  3033,3072,3118,3157,3196,3234,3273,3311
];
var sc24No = [
  0.27,0.29,0.22,0.24,0.32,0.49,0.59,0.63,0.46,0.49, 0.58,0.56,0.54,0.49,0.61,0.93,1.21,1.04,0.9,0.93,
  1.31,1.7,1.44,1.24,1.38,1.27,1.21,1.48,1.38,1.22, 1.36,1.24,1.04,1.04,1.0,1.31,1.44,1.34,1.24,1.02,
  1.44,1.65,1.71,1.99,1.68,1.41,1.24,1.29,1.48,1.77, 1.94,2.05,1.77,1.53,1.65,1.73,1.41,1.34,1.22,1.48,
  1.46,1.27,1.24,1.09,0.97,0.88,0.76,0.78,1.0,1.15, 0.97,0.7,0.65,0.88,0.63,0.46,0.59,0.9,1.09,0.76,
  0.46,0.34,0.42,0.49,0.42,0.34,0.46,0.54
];
var sc23Co2Days = [
  8,46,85,124,162,182,220,278,305,344, 383,413,444,471,498,522,549,587,626,665,
  696,723,761,800,827,858,896,924,954,993, 1032,1070,1090,1128,1155,1186,1213,1244,1264,1291,
  1321,1348,1368,1387,1418,1445,1472,1511,1534,1557, 1584,1611,1642,1669,1700,1727,1766,1797,1824,1851,
  1882,1913,1940,1959,1982,2006,2029,2056,2083,2106, 2121,2144,2172,2199,2218,2249,2276,2299,2318,2345,
  2376,2396,2423,2454,2481,2519,2547,2577,2608,2635, 2662,2686,2713,2740,2763,2790,2817,2836,2859,2886,
  2917,2948,2975,3002,3033,3053,3080,3111,3130,3157, 3188,3215,3234,3265,3292,3323,3350,3381,3408,3435,
  3474,3505,3543,3582,3613,3640,3667,3698,3737,3775, 3806,3833,3872,3903,3949,3988,4027,4077,4123,4169,
  4219,4258,4296,4323,4355,4401,4451,4509,4567,4625, 4683,4722,4760
];
var sc23Co2 = [
  6.32,6.46,6.62,6.92,6.74,6.9,6.8,6.9,7.0,6.92, 6.7,6.4,6.62,7.36,7.22,7.34,7.38,7.02,7.54,7.86,
  7.46,7.38,7.58,8.08,8.5,8.26,8.26,8.44,8.18,8.38, 7.9,8.02,8.26,8.62,8.82,8.82,8.36,9.27,9.65,8.9,
  8.72,8.66,9.3,9.9,9.3,9.43,8.98,10.02,9.37,8.74, 9.55,9.21,9.21,8.82,8.58,8.26,10.21,9.3,8.1,8.66,
  7.86,8.5,10.53,10.37,10.97,10.01,9.97,9.85,9.53,9.17, 8.9,9.53,9.1,8.1,8.02,9.3,9.61,9.73,9.3,9.63,
  8.98,8.9,8.58,8.14,8.34,8.34,8.14,8.54,8.3,8.14, 7.82,8.18,9.83,9.21,8.1,7.74,7.54,7.62,7.88,7.38,
  7.18,7.02,8.1,7.7,7.3,7.0,8.34,7.82,7.26,7.7, 7.58,7.18,7.0,7.9,7.82,7.46,7.18,7.5,7.16,6.7,
  7.04,6.82,6.66,6.98,7.28,6.82,6.68,6.64,6.94,6.78, 7.02,7.3,7.04,6.8,6.62,6.68,6.54,6.48,6.44,6.54,
  6.92,6.7,6.7,6.82,6.56,6.4,6.38,6.46,6.36,6.38, 6.42,6.34,6.24
];
var sc24Co2Days = [
  8,46,85,124,162,201,239,278,305,336, 375,413,452,491,522,560,587,614,645,676,
  703,742,773,808,838,869,896,927,954,985, 1012,1051,1090,1117,1148,1178,1217,1244,1271,1294,
  1321,1360,1387,1418,1445,1468,1495,1534,1565,1592, 1619,1650,1669,1688,1719,1746,1777,1804,1831,1854,
  1882,1913,1940,1967,1990,2017,2044,2067,2094,2114, 2133,2160,2183,2210,2241,2268,2299,2326,2353,2384,
  2415,2442,2469,2500,2519,2547,2577,2608,2639,2666, 2693,2720,2751,2790,2821,2859,2898,2925,2956,2983,
  3014,3041,3072,3111,3149,3188,3215,3242,3273,3311
];
var sc24Co2 = [
  6.38,6.38,6.32,6.3,6.4,6.54,6.74,6.86,6.78,6.58, 6.54,6.74,6.76,6.86,6.76,6.74,6.98,7.54,7.62,7.38,
  7.14,7.06,7.34,7.74,8.18,8.3,7.86,7.86,7.56,7.86, 7.54,7.4,7.78,7.7,7.42,7.9,7.96,7.7,7.3,7.74,
  7.24,7.62,7.7,8.06,7.54,7.74,7.44,7.14,7.3,8.5, 8.26,8.5,8.42,8.84,8.34,8.02,7.78,7.38,7.7,7.36,
  7.78,8.02,8.74,8.62,8.88,8.26,8.34,7.98,8.1,8.2, 7.7,7.58,7.9,7.46,7.7,7.94,8.02,7.66,7.82,7.58,
  7.5,7.3,7.1,7.18,6.9,6.74,6.94,7.3,7.6,7.18, 7.1,6.82,6.86,7.12,6.84,6.46,6.58,6.9,7.26,6.9,
  6.74,6.5,6.42,6.5,6.54,6.54,6.38,6.32,6.56,6.64
];

function rawPoints(vals) {
  return vals.map(function (v, i) { return { x: RAW_START + i * RAW_STEP, y: v }; });
}
function pairPoints(list) {
  return list.map(function (p) { return { x: p[0], y: p[1] }; });
}
function zipPoints(xs, ys) {
  return xs.map(function (x, i) { return { x: x, y: ys[i] }; });
}

// inward tick marks on all four sides plus the plot frame
var boxTicks = {
  id: 'boxTicks',
  afterDraw: function (chart, args, o) {
    var ctx = chart.ctx, a = chart.chartArea;
    ctx.save();
    ctx.strokeStyle = o.color;
    ctx.lineWidth = o.width;
    ctx.beginPath();
    marks(chart.scales.x, o.x, function (p, len) {
      ctx.moveTo(p, a.top); ctx.lineTo(p, a.top + len);
      ctx.moveTo(p, a.bottom); ctx.lineTo(p, a.bottom - len);
    });
    marks(chart.scales.y, o.y, function (p, len) {
      ctx.moveTo(a.left, p); ctx.lineTo(a.left + len, p);
      ctx.moveTo(a.right, p); ctx.lineTo(a.right - len, p);
    });
    ctx.stroke();
    ctx.strokeStyle = o.frame;
    ctx.lineWidth = o.frameWidth;
    ctx.strokeRect(a.left, a.top, a.right - a.left, a.bottom - a.top);
    ctx.restore();
  }
};
function marks(scale, s, draw) {
  var k = Math.ceil((scale.min - 1e-9) / s.minor);
  for (; k * s.minor <= scale.max + 1e-9; k++) {
    var v = k * s.minor, r = v / s.major;
    draw(scale.getPixelForValue(v), Math.abs(r - Math.round(r)) < 1e-6 ? s.majorLen : s.minorLen);
  }
}

var leftFont = { family: 'DejaVu Sans', size: 29 };
var rightFont = { family: 'DejaVu Sans', size: 33 };

function leftPanel(id, p) {
  return new Chart(document.getElementById(id), {
    type: 'line',
    data: { datasets: p.datasets },
    options: {
      responsive: false, animation: false, devicePixelRatio: 1, parsing: false,
      layout: { autoPadding: false, padding: { top: 40, right: 50, left: 0, bottom: p.showX ? 0 : 40 } },
      plugins: {
        legend: { display: false }, tooltip: { enabled: false },
        boxTicks: {
          color: '#555', width: 1.5, frame: '#555', frameWidth: 2,
          x: { minor: p.xMinor, major: p.xMajor, minorLen: 12, majorLen: 23 },
          y: { minor: p.yMinor, major: 2, minorLen: 12, majorLen: 23 }
        }
      },
      elements: { point: { radius: 0 }, line: { tension: 0 } },
      scales: {
        x: {
          type: 'linear', min: p.xMin, max: 2019,
          afterFit: function (s) { s.height = p.showX ? 50 : 0; },
          grid: { color: '#d6d6d6', lineWidth: 1.5, drawTicks: false },
          border: { display: false, dash: [6, 5] },
          ticks: {
            display: p.showX, stepSize: 1, includeBounds: false, autoSkip: false, maxRotation: 0,
            padding: 6, font: leftFont, color: '#000',
            callback: function (v) { return v % p.labelEvery === 0 ? String(v) : ''; }
          }
        },
        y: {
          type: 'linear', min: p.yMin, max: p.yMax,
          afterFit: function (s) { s.width = p.axisW; },
          grid: { color: '#e4e4e4', lineWidth: 2, drawTicks: false },
          border: { display: false },
          ticks: {
            stepSize: 2, includeBounds: false, padding: 14, font: leftFont, color: '#000',
            callback: function (v) { return v === p.yMax ? '' : String(v); }
          }
        }
      }
    },
    plugins: [boxTicks]
  });
}

function rightPanel(id, p) {
  return new Chart(document.getElementById(id), {
    type: 'line',
    data: { datasets: p.datasets },
    options: {
      responsive: false, animation: false, devicePixelRatio: 1, parsing: false,
      layout: { autoPadding: false, padding: { top: 40, right: 60, left: 0, bottom: 0 } },
      plugins: {
        legend: { display: false }, tooltip: { enabled: false },
        boxTicks: {
          color: '#111', width: 1.5, frame: '#111', frameWidth: 2,
          x: { minor: 200, major: 1000, minorLen: 16, majorLen: 32 },
          y: { minor: 0.1, major: 1, minorLen: 16, majorLen: 32 }
        }
      },
      elements: { point: { radius: 0 }, line: { tension: 0 } },
      scales: {
        x: {
          type: 'linear', min: 0, max: 5000,
          afterFit: function (s) { s.height = 60; },
          grid: { display: false }, border: { display: false },
          ticks: {
            stepSize: 1000, autoSkip: false, maxRotation: 0, padding: 5, font: rightFont, color: '#000',
            callback: function (v) { return v === 0 ? '' : String(v); }
          }
        },
        y: {
          type: 'linear', min: p.yMin, max: p.yMax,
          afterFit: function (s) { s.width = 100; },
          grid: { display: false }, border: { display: false },
          ticks: { stepSize: 1, padding: 16, font: rightFont, color: '#000' }
        }
      }
    },
    plugins: [boxTicks]
  });
}

function lineSet(points, color, width, order) {
  return { data: points, borderColor: color, borderWidth: width, pointRadius: 0, fill: false, order: order };
}

var noLine = rawPoints(noRaw), co2Line = rawPoints(co2Raw);
var noAvgLine = pairPoints(noAvg), co2AvgLine = pairPoints(co2Avg);

leftPanel('tlNo', {
  xMin: 2001.92, xMinor: 0.5, xMajor: 2, labelEvery: 2, showX: false, axisW: 170,
  yMin: 0, yMax: 12, yMinor: 2 / 3,
  datasets: [lineSet(noAvgLine, '#0000ff', 2, 0), lineSet(noLine, '#008000', 1.4, 1)]
});
leftPanel('tlCo2', {
  xMin: 2001.92, xMinor: 0.5, xMajor: 2, labelEvery: 2, showX: true, axisW: 170,
  yMin: 4, yMax: 14, yMinor: 0.5,
  datasets: [lineSet(co2AvgLine, '#0000ff', 2, 0), lineSet(co2Line, '#ff0000', 1.4, 1)]
});
leftPanel('blNo', {
  xMin: 2009.93, xMinor: 0.25, xMajor: 1, labelEvery: 1, showX: false, axisW: 163,
  yMin: 0, yMax: 8, yMinor: 2 / 3,
  datasets: [lineSet(noAvgLine, '#0000ff', 1.8, 0), lineSet(noLine, '#008000', 1.4, 1)]
});
leftPanel('blCo2', {
  xMin: 2009.93, xMinor: 0.25, xMajor: 1, labelEvery: 1, showX: true, axisW: 163,
  yMin: 4, yMax: 12, yMinor: 0.5,
  datasets: [lineSet(co2AvgLine, '#0000ff', 1.8, 0), lineSet(co2Line, '#ff0000', 1.4, 1)]
});
rightPanel('trNo', {
  yMin: 0, yMax: 4,
  datasets: [lineSet(zipPoints(sc24NoDays, sc24No), '#006400', 2, 0),
             lineSet(zipPoints(sc23NoDays, sc23No), '#3ed33e', 2, 1)]
});
rightPanel('brCo2', {
  yMin: 6, yMax: 11,
  datasets: [lineSet(zipPoints(sc24Co2Days, sc24Co2), '#990000', 2, 0),
             lineSet(zipPoints(sc23Co2Days, sc23Co2), '#ff0000', 2, 1)]
});

function fitTitles() {
  document.querySelectorAll('[data-fit]').forEach(function (el) {
    var s = +el.dataset.fit / el.offsetWidth;
    el.style.transform = 'translate(-50%, -50%) scaleX(' + s.toFixed(3) + ')';
  });
}
fitTitles();
if (document.fonts) document.fonts.ready.then(fitTitles);
</script>
</body>
</html>
